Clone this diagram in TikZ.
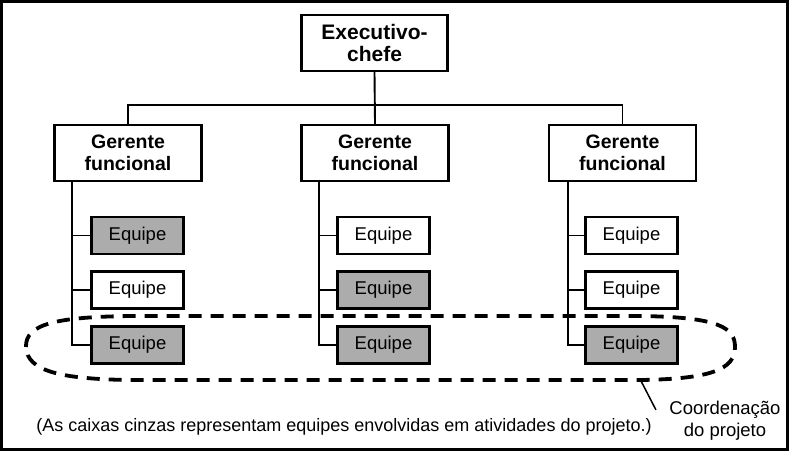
\documentclass[tikz,border=0pt]{standalone}
\usepackage{fontspec}
\setmainfont{Liberation Sans}
\definecolor{cinza}{RGB}{172,172,172}
\begin{document}
\begin{tikzpicture}[x=1pt,y=-1pt,
    caixa/.style={draw,line width=2.4pt,inner sep=0pt,align=center},
    chefe/.style={caixa,minimum width=146pt,minimum height=56pt,font=\bfseries\fontsize{21}{22}\selectfont},
    gerbox/.style={caixa,minimum width=147pt,minimum height=56pt,font=\bfseries\fontsize{19.5}{22}\selectfont},
    equipe/.style={caixa,fill=white,minimum width=92pt,minimum height=37pt,font=\fontsize{18.5}{18}\selectfont},
    equipecinza/.style={equipe,fill=cinza},
    liga/.style={line width=1.9pt}]
    \useasboundingbox (0,0) rectangle (790,451);
    \draw[line width=3pt] (1.5,1.5) rectangle (787.5,449.5);

    \node[chefe] (chefe) at (374.5,43) {Executivo-\\chefe};

    \node[gerbox] (g1) at (128,153) {Gerente\\funcional};
    \node[gerbox] (g2) at (375,153) {Gerente\\funcional};
    \node[gerbox] (g3) at (622.5,153) {Gerente\\funcional};

    \draw[liga] (chefe.south) -- (g2.north);
    \draw[liga] (g1.north) -- ++(0,-19) -| (g3.north);

    % projeto
    \draw[line width=3.8pt,dash pattern=on 13pt off 9pt]
      (26,347) .. controls (25,323) and (60,317) .. (130,316) -- (640,316)
      .. controls (720,317) and (735,328) .. (735,347)
      .. controls (735,369) and (712,379) .. (640,380) -- (130,380)
      .. controls (60,379) and (27,371) .. (26,347);

    \node[equipecinza] (e11) at (137.5,235.5) {Equipe};
    \node[equipe] (e12) at (137.5,290) {Equipe};
    \node[equipecinza] (e13) at (137.5,345) {Equipe};
    \draw[liga] ([xshift=19pt]g1.south west) |- (e13.west);
    \draw[liga] ([xshift=19pt]g1.south west |- e11.west) -- (e11.west);
    \draw[liga] ([xshift=19pt]g1.south west |- e12.west) -- (e12.west);

    \node[equipe] (e21) at (383.5,235.5) {Equipe};
    \node[equipecinza] (e22) at (383.5,290) {Equipe};
    \node[equipecinza] (e23) at (383.5,345) {Equipe};
    \draw[liga] ([xshift=19pt]g2.south west) |- (e23.west);
    \draw[liga] ([xshift=19pt]g2.south west |- e21.west) -- (e21.west);
    \draw[liga] ([xshift=19pt]g2.south west |- e22.west) -- (e22.west);

    \node[equipe] (e31) at (631.5,235.5) {Equipe};
    \node[equipe] (e32) at (631.5,290) {Equipe};
    \node[equipecinza] (e33) at (631.5,345) {Equipe};
    \draw[liga] ([xshift=20pt]g3.south west) |- (e33.west);
    \draw[liga] ([xshift=20pt]g3.south west |- e31.west) -- (e31.west);
    \draw[liga] ([xshift=20pt]g3.south west |- e32.west) -- (e32.west);

    \node[font=\fontsize{18}{18}\selectfont] (legenda) at (344,427)
      {(As caixas cinzas representam equipes envolvidas em atividades do projeto.)};
    \node[align=center,font=\fontsize{18.5}{22}\selectfont] (coord) at (725,421)
      {Coordenação\\do projeto};
    \coordinate (ponta) at (640,379);
    \draw[line width=1.5pt] (ponta) -- ([xshift=-10pt,yshift=-12pt]coord.north west);
\end{tikzpicture}
\end{document}
